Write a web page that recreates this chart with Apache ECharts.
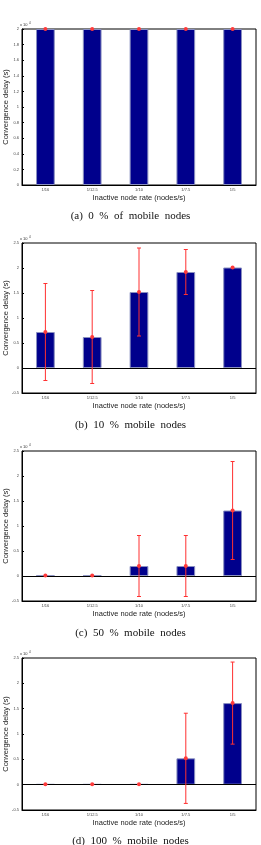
<!DOCTYPE html>
<html lang="en">
<head>
<meta charset="UTF-8">
<title>Convergence delay</title>
<script src="https://cdn.jsdelivr.net/npm/echarts@6/dist/echarts.min.js"></script>
<style>
  html, body { margin: 0; padding: 0; background: #fff; }
  #main { width: 261px; height: 845px; }
</style>
</head>
<body>
<div id="main"></div>
<script>
// inactive node rate categories
var categories = ["1/16", "1/12.5", "1/10", "1/7.5", "1/5"];

// mean convergence delay (x10^4 s) and error half-widths, one pair per panel
var meanA = [2, 2, 2, 2, 2];
var errA  = [0, 0, 0, 0, 0];
var meanB = [0.72, 0.62, 1.52, 1.92, 2.01];
var errB  = [0.97, 0.93, 0.88, 0.45, 0.01];
var meanC = [0.01, 0.01, 0.2, 0.2, 1.31];
var errC  = [0, 0, 0.61, 0.61, 0.98];
var meanD = [0.01, 0.01, 0.01, 0.52, 1.61];
var errD  = [0, 0, 0, 0.89, 0.81];

var captions = ["(a)  0  %  of  mobile  nodes", "(b)  10  %  mobile  nodes",
                "(c)  50  %  mobile  nodes", "(d)  100  %  mobile  nodes"];

var means = [meanA, meanB, meanC, meanD];
var errs = [errA, errB, errC, errD];
var grids = [
  {top: 29, height: 156},
  {top: 243, height: 150},
  {top: 451, height: 150},
  {top: 658, height: 152}
];
var captionTop = [206, 415, 623, 831];
var yScale = [
  {min: 0, max: 2, interval: 0.2},
  {min: -0.5, max: 2.5, interval: 0.5},
  {min: -0.5, max: 2.5, interval: 0.5},
  {min: -0.5, max: 2.5, interval: 0.5}
];

var myChart = echarts.init(document.getElementById("main"));

var option = {
  animation: false,
  backgroundColor: "#fff",
  title: [],
  grid: [],
  xAxis: [],
  yAxis: [],
  series: [],
  graphic: []
};

for (var i = 0; i < 4; i++) {
  option.grid.push({
    left: 22, right: 5, top: grids[i].top, height: grids[i].height,
    outerBoundsMode: "none", containLabel: false,
    show: true, borderColor: "#000", borderWidth: 1
  });
  option.title.push({
    text: captions[i], left: "center", top: captionTop[i],
    textStyle: {fontFamily: "Liberation Serif", fontSize: 11, fontWeight: "normal", color: "#111"}
  });
  option.graphic.push({
    type: "text", left: 20, top: grids[i].top - 6,
    style: {text: "x 10", font: "4px Liberation Sans", fill: "#333"}
  });
  option.graphic.push({
    type: "text", left: 29, top: grids[i].top - 7,
    style: {text: "4", font: "3px Liberation Sans", fill: "#333"}
  });
  option.xAxis.push({
    gridIndex: i, type: "category", data: categories,
    axisLine: {onZero: false, lineStyle: {color: "#000", width: 1}},
    axisTick: {alignWithLabel: true, inside: true, length: 2, lineStyle: {color: "#000"}},
    axisLabel: {fontSize: 4, margin: 3, color: "#444", fontFamily: "Liberation Sans"},
    name: "Inactive node rate (nodes/s)", nameLocation: "middle", nameGap: 9,
    nameMoveOverlap: false,
    nameTextStyle: {fontSize: 7.5, color: "#222", fontFamily: "Liberation Sans"}
  });
  option.yAxis.push({
    gridIndex: i, type: "value",
    min: yScale[i].min, max: yScale[i].max, interval: yScale[i].interval,
    axisLine: {show: true, lineStyle: {color: "#000", width: 1}},
    axisTick: {show: true, inside: true, length: 2, lineStyle: {color: "#000"}},
    axisLabel: {fontSize: 4, margin: 3, color: "#444", fontFamily: "Liberation Sans"},
    splitLine: {show: false},
    name: "Convergence delay (s)", nameLocation: "middle", nameGap: 12, nameRotate: 90,
    nameMoveOverlap: false,
    nameTextStyle: {fontSize: 7.5, color: "#222", fontFamily: "Liberation Sans"}
  });
  option.series.push({
    type: "bar", xAxisIndex: i, yAxisIndex: i, data: means[i],
    barWidth: "40%",
    itemStyle: {color: "#00008c", borderColor: "#8a90c0", borderWidth: 1},
    markLine: i === 0 ? undefined : {
      silent: true, symbol: "none", label: {show: false},
      lineStyle: {color: "#000", width: 1, type: "solid"},
      data: [{yAxis: 0}]
    }
  });
  var errData = means[i].map(function (m, k) { return [k, m, errs[i][k]]; });
  option.series.push({
    type: "custom", xAxisIndex: i, yAxisIndex: i, data: errData, z: 10,
    renderItem: function (params, api) {
      var x = api.value(0), m = api.value(1), e = api.value(2);
      var hi = api.coord([x, m + e]);
      var lo = api.coord([x, m - e]);
      var c = api.coord([x, m]);
      var cap = 2;
      var red = {stroke: "#ff3030", lineWidth: 1};
      var children = [];
      if (e > 0.02) {
        children.push({type: "line", shape: {x1: hi[0], y1: hi[1], x2: lo[0], y2: lo[1]}, style: red});
        children.push({type: "line", shape: {x1: hi[0] - cap, y1: hi[1], x2: hi[0] + cap, y2: hi[1]}, style: red});
        children.push({type: "line", shape: {x1: lo[0] - cap, y1: lo[1], x2: lo[0] + cap, y2: lo[1]}, style: red});
      }
      children.push({type: "circle", shape: {cx: c[0], cy: c[1], r: 2}, style: {fill: "#ff3a3a"}});
      return {type: "group", children: children};
    }
  });
}

myChart.setOption(option);
</script>
</body>
</html>
